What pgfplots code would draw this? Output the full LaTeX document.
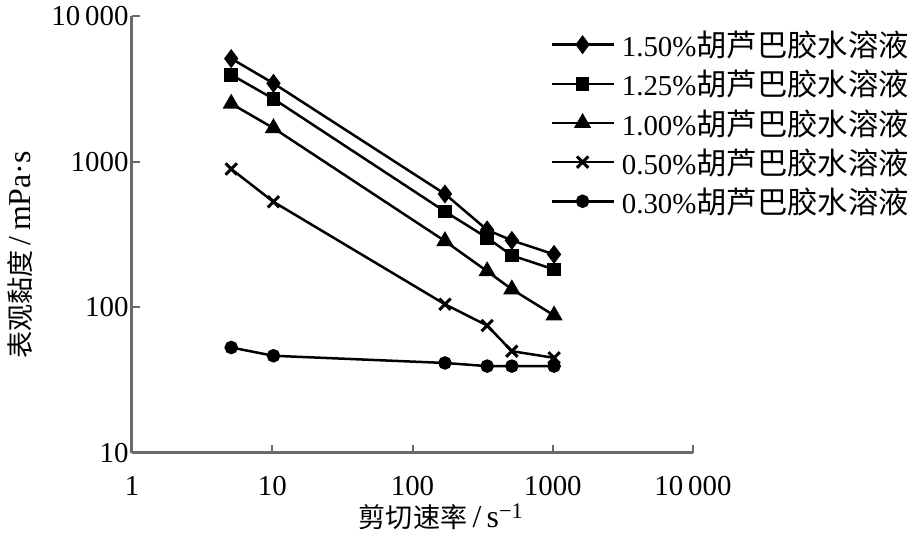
\documentclass[border=0pt]{standalone}
\usepackage{fontspec}
\setmainfont{Liberation Serif}
\newfontfamily\cjk[Scale=1.05]{Noto Sans CJK SC}
\newfontfamily\cjks[Scale=0.85]{Noto Sans CJK SC}
\usepackage{pgfplots}
\pgfplotsset{compat=1.18}

\definecolor{axgray}{RGB}{105,105,105}
\newcommand{\bigfs}{\fontsize{29}{34}\selectfont}
\newcommand{\labfs}{\fontsize{32}{38}\selectfont}

\begin{document}
\begin{tikzpicture}
\begin{loglogaxis}[
  name=ax,
  scale only axis,
  width=561bp, height=437bp,
  xmin=1, xmax=10000, ymin=10, ymax=10000,
  axis lines=left,
  axis line style={-, axgray, line width=3bp},
  tick style={axgray, line width=2bp},
  major tick length=8bp,
  tick align=inside,
  xminorticks=false, yminorticks=false,
  xtick={1,10,100,1000,10000},
  xticklabels={{\bigfs 1},{\bigfs 10},{\bigfs 100},{\bigfs 1000},{\bigfs 10\,000}},
  ytick={10,100,1000,10000},
  yticklabels={{\bigfs 10},{\bigfs 100},{\bigfs 1000},{\bigfs 10\,000}},
  xticklabel style={yshift=-20bp},
  xlabel={\labfs{\cjks 剪切速率}\,/\,s\textsuperscript{−1}},
  ylabel={\labfs{\cjks 表观黏度}\,/\,mPa·s},
  xlabel style={at={(axis description cs:0.551,0)}, anchor=center, yshift=-64bp},
  ylabel style={at={(axis description cs:-0.2,0.453)}, anchor=center},
  every axis plot/.append style={black, line width=2.5bp},
  legend cell align=left,
  legend style={draw=none, fill=none, at={(axis description cs:0.74,0.975)},
    anchor=north west, row sep=8bp, font=\bigfs,
    /tikz/every odd column/.append style={column sep=5bp}},
  legend image code/.code={\draw[mark repeat=2,mark phase=2] plot coordinates {(0bp,0bp) (31bp,0bp) (62bp,0bp)};},
]
\addplot[mark=diamond*, mark size=7.5bp] coordinates {
  (5.1,5100) (10.2,3450) (170.3,600) (340.6,340) (510.9,288) (1021.8,231)};
\addlegendentry{1.50\%{\cjk 胡芦巴胶水溶液}}
\addplot[mark=square*, mark size=5.5bp] coordinates {
  (5.1,3950) (10.2,2700) (170.3,455) (340.6,300) (510.9,227) (1021.8,182)};
\addlegendentry{1.25\%{\cjk 胡芦巴胶水溶液}}
\addplot[mark=triangle*, mark size=7.5bp] coordinates {
  (5.1,2500) (10.2,1700) (170.3,285) (340.6,177) (510.9,133) (1021.8,88)};
\addlegendentry{1.00\%{\cjk 胡芦巴胶水溶液}}
\addplot[mark=x, mark size=8bp, mark options={line width=3bp}] coordinates {
  (5.1,890) (10.2,530) (170.3,105) (340.6,75) (510.9,50) (1021.8,45)};
\addlegendentry{0.50\%{\cjk 胡芦巴胶水溶液}}
\addplot[mark=*, mark size=5.5bp] coordinates {
  (5.1,53) (10.2,46.5) (170.3,41.5) (340.6,39.5) (510.9,39.5) (1021.8,39.5)};
\addlegendentry{0.30\%{\cjk 胡芦巴胶水溶液}}
\end{loglogaxis}
\pgfresetboundingbox
\path[use as bounding box] ([shift={(-132bp,-84bp)}]ax.south west) rectangle ([shift={(783bp,453bp)}]ax.south west);
\end{tikzpicture}
\end{document}
